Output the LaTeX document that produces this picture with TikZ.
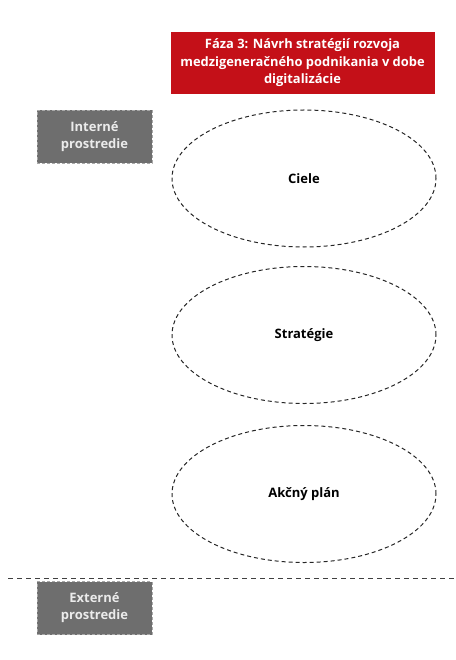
\documentclass[tikz,border=0pt]{standalone}
\usepackage{fontspec}
\setmainfont{Open Sans}
\usetikzlibrary{shapes.geometric}
\definecolor{phasered}{RGB}{196,16,24}
\definecolor{envgray}{RGB}{110,110,110}
\definecolor{envtext}{RGB}{235,235,235}
\begin{document}
\begin{tikzpicture}[x=1pt,y=-1pt,
  phasebox/.style={fill=phasered,text=white,font=\bfseries\fontsize{12.9}{17.5}\selectfont,
    align=center,minimum width=264pt,minimum height=62pt,inner sep=0pt},
  envbox/.style={fill=envgray,draw=envgray!60,dash pattern=on 3pt off 2pt,text=envtext,
    font=\bfseries\fontsize{13}{17}\selectfont,align=center,
    minimum width=115pt,minimum height=53pt,inner sep=0pt},
  stage/.style={ellipse,draw=black!85,dash pattern=on 4pt off 3pt,line width=1pt,
    minimum width=264pt,minimum height=137pt,inner sep=0pt,
    font=\bfseries\fontsize{13}{15}\selectfont}]
\useasboundingbox (0,0) rectangle (455,660);
\node[phasebox] (phase) at (302.5,63) {Fáza 3: Návrh stratégií rozvoja\\medzigeneračného podnikania v dobe\\digitalizácie};
\node[envbox] (internal) at (94.5,136.5) {Interné\\prostredie};
\node[envbox] (external) at (94.5,608) {Externé\\prostredie};
\node[stage] (goals) at (304,178.5) {Ciele};
\node[stage] (strategy) at (304,335) {Stratégie};
\node[stage] (plan) at (304,494) {Akčný plán};
\coordinate (sepL) at (8,578);
\coordinate (sepR) at (455,578);
\draw[dash pattern=on 5pt off 4pt,line width=1pt,black!75] (sepL) -- (sepR);
\end{tikzpicture}
\end{document}
